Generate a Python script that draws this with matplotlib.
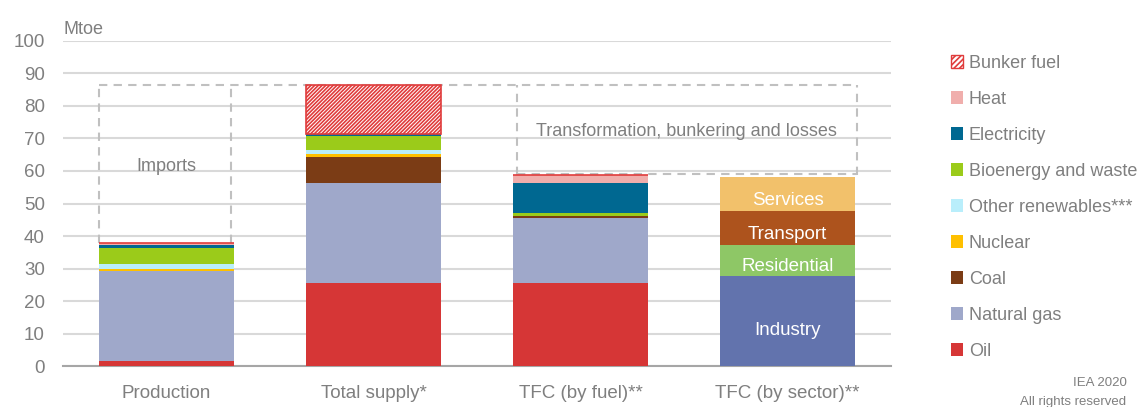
import matplotlib
matplotlib.use("Agg")
import matplotlib.pyplot as plt
from matplotlib.patches import Patch
import numpy as np

plt.rcParams['font.family'] = ['Liberation Sans', 'DejaVu Sans']
plt.rcParams['hatch.linewidth'] = 1.2

categories = ["Production", "Total supply*", "TFC (by fuel)**", "TFC (by sector)**"]

# fuel stacks for the first three bars (Mtoe)
fuels = ["Oil", "Natural gas", "Coal", "Nuclear", "Other renewables***",
         "Bioenergy and waste", "Electricity", "Heat", "Bunker fuel"]
oil = [1.5, 25.5, 25.4]
natural_gas = [27.7, 30.7, 20.2]
coal = [0.0, 8.0, 0.7]
nuclear = [0.8, 0.9, 0.0]
other_ren = [1.3, 1.3, 0.0]
bioenergy = [5.0, 4.3, 0.9]
electricity = [1.0, 0.6, 9.1]
heat = [0.6, 0.0, 2.5]
bunker = [0.0, 15.3, 0.0]

# sector stack for the last bar
sectors = ["Industry", "Residential", "Transport", "Services"]
sector_vals = [27.8, 9.4, 10.5, 10.5]

fuel_colors = ["#d63636", "#9fa8ca", "#7b3c15", "#ffc000", "#b9eefb",
               "#9bcb1a", "#006891", "#f0aeac", "white"]
sector_colors = ["#6273ad", "#8ec766", "#ad531d", "#f2c16b"]

grey = "#7f7f7f"

fig = plt.figure(figsize=(11.38, 4.07), dpi=100)
ax = fig.add_axes([0.0554, 0.1007, 0.7276, 0.7986])

x = np.arange(len(categories))
w = 0.65
series = [oil, natural_gas, coal, nuclear, other_ren, bioenergy, electricity, heat, bunker]
bottom = np.zeros(3)
for name, vals, col in zip(fuels, series, fuel_colors):
    if name == "Bunker fuel":
        ax.bar(x[:3], vals, w, bottom=bottom, color="white", edgecolor="#e03c3c",
               hatch="/////////", linewidth=1.2, zorder=3)
    else:
        ax.bar(x[:3], vals, w, bottom=bottom, color=col, zorder=3)
    bottom += np.array(vals)

b = 0
for name, v, col in zip(sectors, sector_vals, sector_colors):
    ax.bar(x[3], v, w, bottom=b, color=col, zorder=3)
    off = 3.1 if name == "Industry" else 2.0
    ax.text(x[3], b + v / 2 - off, name, color="white", fontsize=13.5,
            ha="center", va="center", zorder=4)
    b += v

# dashed boxes
prod_top = sum(s[0] for s in series)
supply_top = sum(s[1] for s in series)
tfc_top = sum(s[2] for s in series)
dash = dict(color="#c0c0c0", lw=1.5, ls=(0, (4, 3)), zorder=2)
ax.plot([-w / 2, -w / 2], [prod_top, supply_top], **dash)
ax.plot([0.31, 0.31], [prod_top, supply_top], **dash)
ax.plot([-w / 2, 3.336], [supply_top, supply_top], **dash)
ax.plot([1.693, 1.693], [tfc_top, supply_top], **dash)
ax.plot([3.336, 3.336], [tfc_top, supply_top], **dash)
ax.plot([1.693, 3.336], [tfc_top + 0.3, tfc_top + 0.3], **dash)

ax.text(0, 61.5, "Imports", color=grey, fontsize=13, ha="center", va="center")
ax.text(2.51, 72.3, "Transformation, bunkering and losses", color=grey, fontsize=13,
        ha="center", va="center")

ax.set_xlim(-0.5, 3.5)
ax.set_ylim(0, 100)
ax.set_yticks(range(0, 101, 10))
ax.set_xticks(x)
ax.set_xticklabels(categories)
ax.tick_params(axis="both", length=0, labelsize=13.5, labelcolor=grey)
ax.tick_params(axis="x", pad=14)
ax.tick_params(axis="y", pad=13)
ax.yaxis.grid(True, color="#d9d9d9", lw=1.5, zorder=0)
for s in ["top", "right", "left"]:
    ax.spines[s].set_visible(False)
ax.spines["bottom"].set_color("#a6a6a6")
ax.spines["bottom"].set_linewidth(1.5)
ax.set_axisbelow(True)

fig.text(0.0554, 0.927, "Mtoe", color=grey, fontsize=13, ha="left", va="center")

handles = []
for name, col in zip(fuels[::-1], fuel_colors[::-1]):
    if name == "Bunker fuel":
        handles.append(Patch(facecolor="white", edgecolor="#e03c3c", hatch="//////", lw=1))
    else:
        handles.append(Patch(facecolor=col, edgecolor="none"))
fig.legend(handles, fuels[::-1], loc="upper left", bbox_to_anchor=(0.829, 0.883),
           frameon=False, fontsize=13, labelcolor=grey, handlelength=0.7,
           handleheight=0.7, handletextpad=0.3, labelspacing=1.05, borderaxespad=0)

fig.text(0.99, 0.058, "IEA 2020", color=grey, fontsize=9.5, ha="right", va="center")
fig.text(0.99, 0.012, "All rights reserved", color=grey, fontsize=9.5, ha="right", va="center")

fig.savefig("out.png", dpi=100)
